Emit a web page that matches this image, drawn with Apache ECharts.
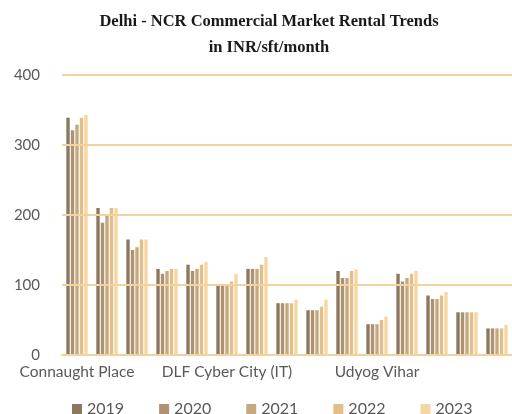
<!DOCTYPE html>
<html>
<head>
<meta charset="utf-8">
<script src="https://cdn.jsdelivr.net/npm/echarts@6/dist/echarts.min.js"></script>
<style>
  html, body { margin: 0; padding: 0; background: #fff; }
  #main { width: 512px; height: 414px; }
</style>
</head>
<body>
<div id="main"></div>
<script>
// micro markets (only every 5th label is shown on the axis)
const markets = [
    'Connaught Place', 'Barakhamba Road', 'Nehru Place', 'Saket', 'Jasola',
    'DLF Cyber City (IT)', 'Golf Course Road', 'Sohna Road', 'MG Road', 'NH-8',
    'Udyog Vihar', 'Noida Sector 62', 'Noida Sector 18', 'Noida Expressway', 'Greater Noida'
];
const years = ['2019', '2020', '2021', '2022', '2023'];
const colors = ['#857155', '#a88c6b', '#c2a479', '#dfbb84', '#f5d59f'];

const rent2019 = [339, 210, 165, 123, 129, 99, 123, 74, 64, 120, 44, 116, 85, 61, 38];
const rent2020 = [321, 189, 150, 116, 120, 99, 123, 74, 64, 110, 44, 105, 80, 61, 38];
const rent2021 = [329, 200, 154, 120, 123, 99, 123, 74, 64, 110, 44, 110, 80, 61, 38];
const rent2022 = [339, 210, 165, 123, 129, 105, 129, 74, 69, 120, 50, 116, 85, 61, 38];
const rent2023 = [343, 210, 165, 123, 133, 116, 140, 79, 79, 122, 55, 120, 90, 61, 43];
const rents = [rent2019, rent2020, rent2021, rent2022, rent2023];

const yTicks = { min: 0, max: 400, interval: 100 };

let chartDom = document.getElementById('main');
let myChart = echarts.init(chartDom);

let opt = {
    backgroundColor: '#fff',
    animation: false,
    title: {
        text: 'Delhi - NCR Commercial Market Rental Trends\nin INR/sft/month',
        left: 264,
        textAlign: 'center',
        top: 4,
        textStyle: {
            fontFamily: 'Liberation Serif',
            fontWeight: 'bold',
            fontSize: 16.5,
            lineHeight: 26,
            color: '#1a1a1a'
        }
    },
    legend: {
        top: 396,
        left: 67,
        icon: 'rect',
        itemWidth: 10,
        itemHeight: 10,
        itemGap: 35,
        textStyle: { fontFamily: 'Lato', fontSize: 16, color: '#595959' },
        data: years
    },
    grid: { left: 62, top: 75, bottom: 59, width: 458 },
    xAxis: {
        type: 'category',
        data: markets,
        axisTick: { show: false },
        axisLine: { lineStyle: { color: '#f2d29d', width: 2 } },
        axisLabel: {
            interval: 4,
            margin: 9,
            fontFamily: 'Lato',
            fontSize: 15.5,
            color: '#595959'
        }
    },
    yAxis: {
        type: 'value',
        min: yTicks.min,
        max: yTicks.max,
        interval: yTicks.interval,
        z: 5,
        axisLine: { show: false },
        axisTick: { show: false },
        axisLabel: {
            margin: 22,
            fontFamily: 'Lato',
            fontSize: 15,
            color: '#595959'
        },
        splitLine: { lineStyle: { color: '#f2d29d', width: 2 } }
    },
    series: years.map((y, i) => ({
        name: y,
        type: 'bar',
        data: rents[i],
        barWidth: 3.4,
        barGap: '32%',
        itemStyle: { color: colors[i], opacity: 0.95 }
    }))
};
myChart.setOption(opt);
</script>
</body>
</html>
